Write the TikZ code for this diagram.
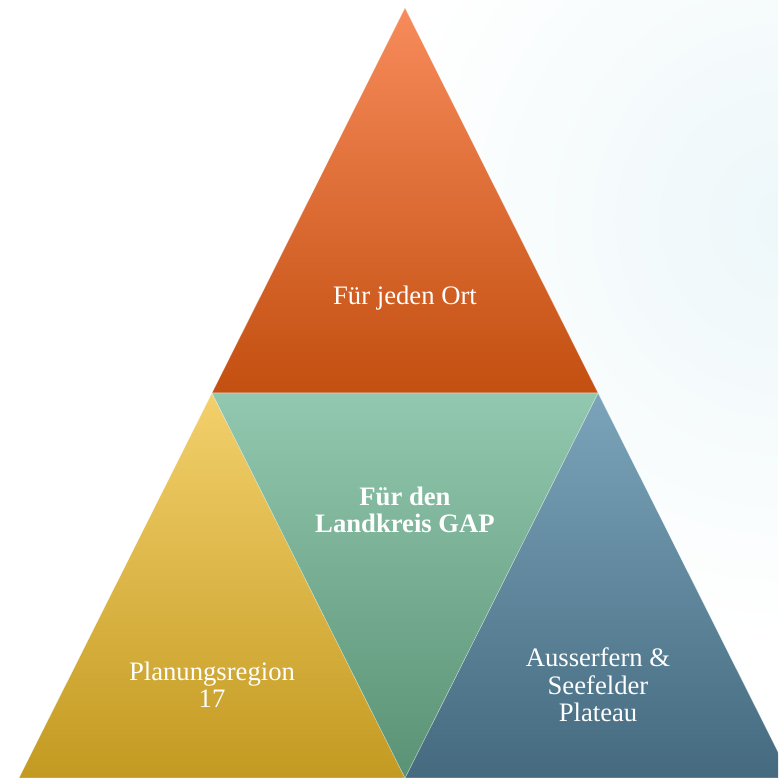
\documentclass[tikz,border=0pt]{standalone}
\usepackage{fontspec}
\setmainfont{Liberation Serif}
\definecolor{ortTop}{HTML}{F78B5B}
\definecolor{ortBot}{HTML}{C34F10}
\definecolor{lkTop}{HTML}{92C8AF}
\definecolor{lkBot}{HTML}{5A9275}
\definecolor{regTop}{HTML}{F3D06C}
\definecolor{regBot}{HTML}{C39A21}
\definecolor{ausTop}{HTML}{7BA4BA}
\definecolor{ausBot}{HTML}{456A7F}
\definecolor{swirl}{HTML}{EDF7F9}
\tikzset{
  tri/.style = {draw=white, draw opacity=0.4, line width=0.4pt},
  lbl/.style = {align=center, text=white, font=\fontsize{20}{20.5}\selectfont,
    inner sep=0pt},% beschriftung
  lblb/.style = {lbl, font=\fontsize{20}{20.5}\selectfont\bfseries}% fett
}
\begin{document}
\begin{tikzpicture}[x=0.75pt,y=0.75pt]
\useasboundingbox (0,0) rectangle (778,780);
% heller hintergrund rechts oben
\begin{scope}
  \clip (0,0) rectangle (778,780);
  \shade[inner color=swirl, outer color=white] (790,560) circle (420);
\end{scope}
% dreiecke
\shade[tri, top color=ortTop, bottom color=ortBot]
  (405,772) -- (598,387) -- (212,387) -- cycle;
\shade[tri, top color=regTop, bottom color=regBot]
  (212,387) -- (405,2) -- (19,2) -- cycle;
\begin{scope}
  \clip (0,0) rectangle (778,780);
  \shade[tri, top color=ausTop, bottom color=ausBot]
    (598,387) -- (791,2) -- (405,2) -- cycle;
\end{scope}
\shade[tri, top color=lkTop, bottom color=lkBot]
  (212,387) -- (598,387) -- (405,2) -- cycle;
% texte
\node[lbl] (ort) at (405,482) {Für jeden Ort};
\node[lblb] (lk) at (405,270) {Für den\\Landkreis GAP};
\node[lbl] (reg) at (212,95) {Planungsregion\\17};
\node[lbl] (aus) at (598,95) {Ausserfern \&\\Seefelder\\Plateau};
\end{tikzpicture}
\end{document}
